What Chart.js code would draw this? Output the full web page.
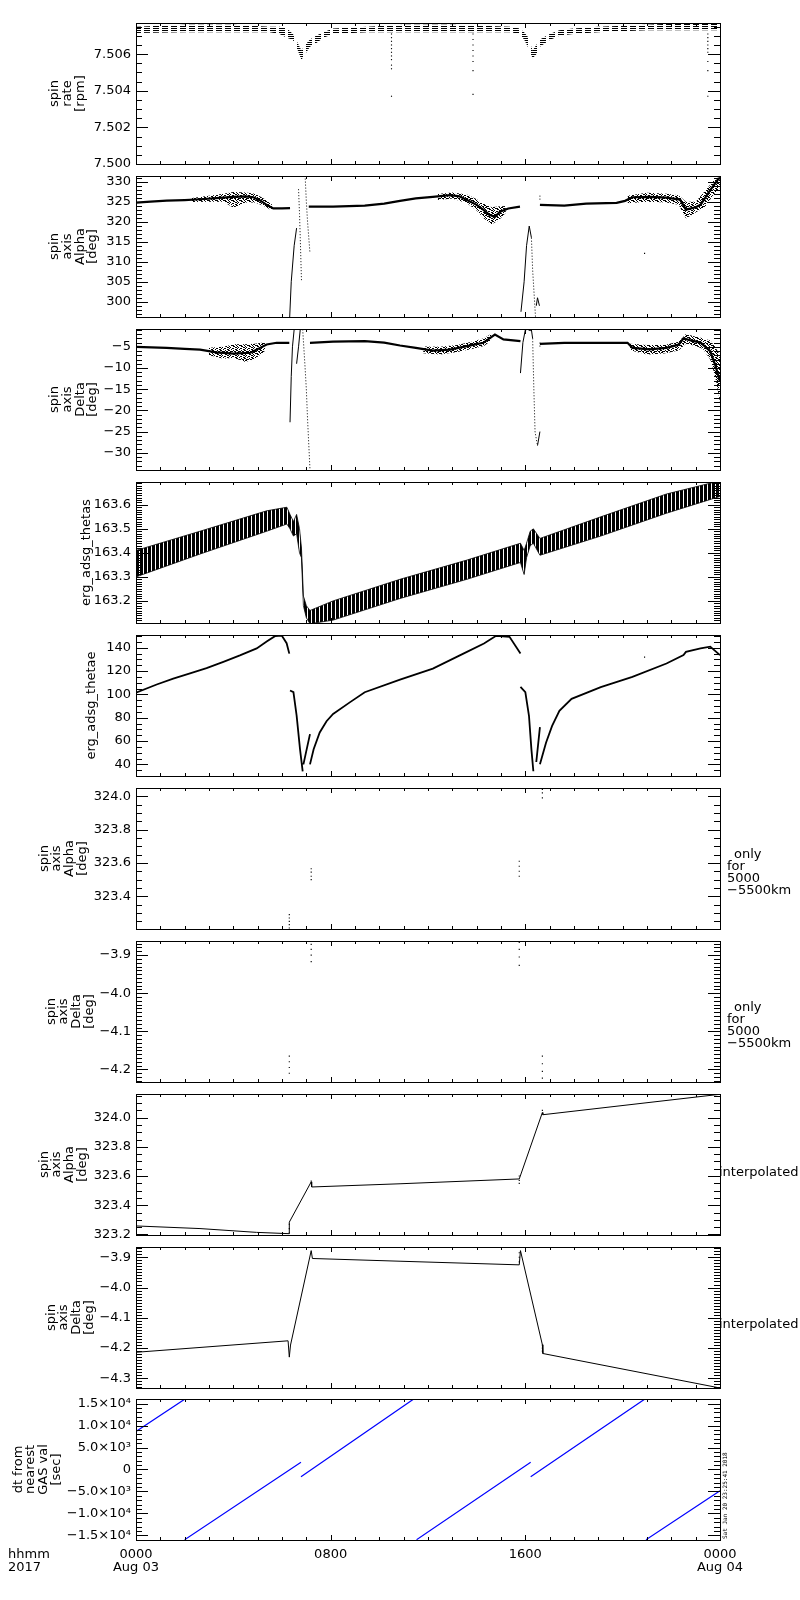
<!DOCTYPE html>
<html>
<head>
<meta charset="utf-8">
<script src="https://cdn.jsdelivr.net/npm/chart.js@4.4.1/dist/chart.umd.min.js"></script>
<style>
  body { margin: 0; background: #fff; }
  #wrap { position: relative; width: 800px; height: 1600px; overflow: hidden; background: #fff;
          font-family: 'DejaVu Sans', sans-serif; color: #000; }
  .note { position: absolute; font-size: 13px; line-height: 12px; white-space: pre; }
  .stamp { position: absolute; left: 721px; top: 1539px; transform-origin: 0 0; transform: rotate(-90deg);
           font: 6px 'DejaVu Sans Mono', monospace; line-height: 7px; white-space: nowrap; }
</style>
</head>
<body>
<div id="wrap">
  <div class="note" style="left:727px;top:848px"><span style="padding-left:7px">only</span>
for
5000
−5500km</div>
  <div class="note" style="left:727px;top:1001px"><span style="padding-left:7px">only</span>
for
5000
−5500km</div>
  <div class="note" style="left:719px;top:1166px">interpolated</div>
  <div class="note" style="left:719px;top:1318px">interpolated</div>
  <div class="note" style="left:8px;top:1547px;line-height:13px">hhmm
2017</div>
  <div class="stamp">Sat Jan 20 23:25:41 2018</div>
</div>
<script>
// ---- data (x = hours since 0000 Aug 03 2017) ----
const spinHours = [0, 2, 4, 5.5, 5.9, 6.2, 6.45, 6.65, 6.8, 6.95, 7.15, 7.4, 7.7, 8.1, 9.5, 11, 13, 15.4, 15.77, 15.95, 16.1, 16.3, 16.45, 16.6, 17.0, 17.4, 17.96, 19, 21, 22.5, 24];
const spinUpper = [7.5075, 7.5076, 7.5076, 7.5075, 7.5075, 7.5074, 7.5071, 7.5066, 7.5062, 7.5065, 7.5068, 7.5070, 7.5072, 7.5074, 7.5075, 7.5076, 7.5076, 7.5075, 7.5074, 7.5072, 7.50695, 7.5062, 7.5065, 7.5068, 7.5071, 7.5073, 7.5074, 7.5075, 7.5076, 7.5077, 7.5077];
const spinLower = [7.50715, 7.5072, 7.5072, 7.5072, 7.5071, 7.5069, 7.50677, 7.5062, 7.50569, 7.5060, 7.5064, 7.5066, 7.5069, 7.5071, 7.5072, 7.5072, 7.5072, 7.5072, 7.5071, 7.5068, 7.5064, 7.50578, 7.5060, 7.5064, 7.50677, 7.5070, 7.5071, 7.5072, 7.5073, 7.5073, 7.5073];
const spikeHours = [10.5, 10.5, 10.5, 10.5, 10.5, 10.5, 10.5, 10.5, 10.5, 10.5, 10.5, 13.85, 13.85, 13.85, 13.85, 13.85, 13.85, 13.85, 13.85, 23.5, 23.5, 23.5, 23.5, 23.5, 23.5, 23.5, 23.5, 23.5];
const spikeVals = [7.5071, 7.5069, 7.5067, 7.5065, 7.5063, 7.5061, 7.5059, 7.5057, 7.5054, 7.5052, 7.5037, 7.5071, 7.5068, 7.5065, 7.5062, 7.5059, 7.5056, 7.5051, 7.5038, 7.5071, 7.5069, 7.5067, 7.5065, 7.5063, 7.5061, 7.5056, 7.5051, 7.5037];

const alphaHours = [0, 0.6, 1.26, 2.0, 2.63, 3.3, 4.0, 4.5, 4.82, 5.1, 5.37, 5.64, 6.0, 6.33, 6.33, 7.1, 8.1, 9.4, 10.2, 10.85, 11.5, 12.2, 12.9, 13.3, 13.6, 14.0, 14.27, 14.5, 14.75, 14.96, 15.3, 15.78, 15.78, 16.6, 17.6, 18.5, 19.75, 20.1, 20.4, 21.1, 21.8, 22.36, 22.6, 23.0, 23.2, 23.6, 23.9, 24];
const alphaVals = [324.75, 325.0, 325.25, 325.4, 325.6, 325.9, 326.2, 326.3, 326.1, 325.3, 324.2, 323.3, 323.3, 323.4, null, 323.75, 323.75, 324.0, 324.5, 325.2, 325.8, 326.2, 326.6, 326.3, 325.4, 324.2, 323.0, 321.8, 321.2, 322.5, 323.3, 323.75, null, 324.2, 324.0, 324.5, 324.7, 325.2, 326.1, 326.2, 326.0, 325.5, 323.0, 323.6, 324.2, 327.9, 330.4, 331];
const alphaNoiseHours = [2.3, 3.0, 3.6, 4.0, 4.5, 4.9, 5.3, 5.6, 5.6, 12.4, 13.0, 13.6, 14.0, 14.3, 14.6, 14.9, 15.2, 15.2, 20.2, 21.0, 21.8, 22.3, 22.6, 23.0, 23.4, 23.7, 24];
const alphaNoiseHigh = [325.9, 326.5, 327.0, 327.4, 327.3, 327.0, 325.6, 324.2, null, 326.9, 327.3, 326.8, 325.6, 324.5, 323.6, 323.8, 323.9, null, 326.5, 327.2, 327.0, 326.6, 325.0, 325.0, 327.8, 330, 331.4];
const alphaNoiseLow = [324.9, 325.0, 325.0, 323.5, 324.8, 324.8, 323.8, 322.7, null, 325.4, 325.8, 324.6, 322.8, 320.8, 319.3, 320.3, 322.2, null, 324.6, 325.0, 324.8, 324.2, 320.8, 322.3, 323.8, 326.5, 328.5];
const alphaExcHours = [6.3, 6.38, 6.5, 6.6, 6.6, 15.82, 15.95, 16.05, 16.16, 16.25, 16.25, 16.45, 16.5, 16.58];
const alphaExcVals = [294, 305, 314, 318.4, null, 297.5, 305, 314, 318.9, 316, null, 299, 301, 299];
const alphaDotHours = [6.68, 6.72, 6.75, 6.8, 6.8, 6.95, 7.0, 7.05, 7.15, 7.15, 16.25, 16.3, 16.38, 16.42, 16.42, 16.6, 16.6];
const alphaDotVals = [328.1, 322, 316, 305.4, null, 331.5, 325, 320, 312.1, null, 316, 308, 300, 296, null, 326.5, 325];
const alphaStrayHours = [20.9];
const alphaStrayVals = [312.1];

const deltaHours = [0, 1.26, 2.0, 2.63, 3.3, 4.0, 4.7, 5.1, 5.37, 5.78, 6.3, 6.3, 7.15, 8.1, 9.4, 10.2, 10.85, 11.5, 12.2, 12.9, 13.6, 14.27, 14.75, 15.1, 15.8, 15.8, 16.6, 17.6, 19.1, 20.2, 20.4, 21.1, 21.8, 22.3, 22.5, 22.8, 23.2, 23.6, 23.8, 24];
const deltaVals = [-5.0, -5.25, -5.5, -5.65, -6.3, -6.6, -6.4, -5.25, -4.45, -4.05, -4.05, null, -4.05, -3.8, -3.65, -4.0, -4.7, -5.25, -5.9, -5.65, -4.85, -4.05, -2.1, -3.25, -3.65, null, -4.3, -4.05, -4.05, -4.05, -5.25, -5.6, -5.25, -4.5, -3.0, -3.5, -4.0, -6.05, -9.2, -13.2];
const deltaNoiseHours = [3.0, 3.6, 4.0, 4.5, 4.9, 5.3, 5.3, 11.8, 12.5, 13.2, 13.8, 14.3, 14.6, 14.6, 20.3, 21.0, 21.7, 22.3, 22.6, 23.0, 23.3, 23.6, 23.8, 24];
const deltaNoiseHigh = [-5.2, -5.0, -4.4, -4.4, -4.3, -3.9, null, -4.9, -5.0, -4.6, -3.8, -3.0, -1.9, null, -4.3, -4.6, -4.6, -3.8, -2.0, -2.6, -3.0, -3.5, -5.0, -7];
const deltaNoiseLow = [-7.0, -7.8, -7.6, -8.6, -7.8, -6.0, null, -6.5, -6.8, -6.2, -5.5, -4.8, -3.5, null, -5.8, -6.8, -6.6, -5.9, -4.3, -4.8, -5.5, -8.0, -12, -18];
const deltaExcHours = [6.33, 6.38, 6.43, 6.5, 6.5, 6.6, 6.68, 6.75, 6.75, 15.8, 15.9, 16.0, 16.1, 16.2, 16.25, 16.3, 16.3, 16.5, 16.6];
const deltaExcVals = [-22.8, -12, -5, -0.9, null, -9, -5, -0.9, null, -11.2, -4, -1.0, -0.9, -1.2, -1.0, -3, null, -28.3, -25];
const deltaDotHours = [6.85, 6.95, 7.0, 7.05, 7.15, 7.15, 16.3, 16.35, 16.4, 16.5, 16.5, 16.6, 16.6];
const deltaDotVals = [-0.9, -10, -15, -22, -34, null, -3, -15, -25.1, -28.3, null, -4, -5];

const thetasHours = [0, 2.63, 5.37, 6.2, 6.33, 6.47, 6.6, 6.72, 6.8, 6.88, 7.0, 7.15, 8.1, 10.85, 13.6, 15.8, 15.95, 16.05, 16.2, 16.33, 16.6, 19.1, 21.8, 24];
const thetasUpper = [163.41, 163.49, 163.575, 163.59, 163.56, 163.53, 163.56, 163.5, 163.42, 163.22, 163.18, 163.16, 163.2, 163.29, 163.37, 163.44, 163.41, 163.44, 163.49, 163.50, 163.46, 163.55, 163.645, 163.70];
const thetasLower = [163.30, 163.395, 163.49, 163.52, 163.50, 163.47, 163.48, 163.40, 163.38, 163.18, 163.13, 163.105, 163.12, 163.21, 163.29, 163.36, 163.31, 163.38, 163.43, 163.44, 163.39, 163.47, 163.565, 163.635];

const thetaeHours = [0, 0.85, 1.53, 2.22, 2.9, 3.59, 4.27, 4.96, 5.37, 5.71, 5.99, 6.19, 6.3, 6.3, 6.33, 6.47, 6.6, 6.74, 6.85, 6.85, 6.88, 7.15, 7.15, 7.15, 7.3, 7.55, 7.83, 8.1, 8.8, 9.4, 10.85, 12.2, 13.6, 14.3, 14.8, 15.35, 15.8, 15.8, 15.8, 16.0, 16.15, 16.25, 16.33, 16.33, 16.45, 16.6, 16.6, 16.6, 16.85, 17.1, 17.4, 17.9, 19.1, 20.4, 21.8, 22.5, 22.6, 23.2, 23.6, 24];
const thetaeVals = [101.5, 108.5, 113.5, 118, 122.5, 128, 133.5, 139.5, 145.5, 150, 150.5, 144, 135, null, 103.4, 102, 82, 53, 34, null, 40, 65.9, null, 40, 53, 67.4, 77, 83.3, 93.4, 101.9, 112.7, 122.2, 136.5, 143.7, 150.3, 149.5, 135.2, null, 106.4, 101.9, 81.7, 52.9, 34.1, null, 42, 72, null, 40, 58.6, 73, 86, 96.2, 106.3, 115, 126.5, 133.7, 136.5, 139.5, 141, 133.7];
const thetaeStrayHours = [20.9];
const thetaeStrayVals = [132];

const alphaOnlyHours = [6.3, 6.3, 6.3, 6.3, 6.3, 7.2, 7.2, 7.2, 7.2, 15.75, 15.75, 15.75, 15.75, 16.7, 16.7, 16.7];
const alphaOnlyVals = [323.29, 323.27, 323.25, 323.23, 323.21, 323.565, 323.545, 323.52, 323.50, 323.61, 323.58, 323.55, 323.52, 324.04, 324.02, 323.99];
const deltaOnlyHours = [6.3, 6.3, 6.3, 6.3, 7.2, 7.2, 7.2, 7.2, 15.75, 15.75, 15.75, 15.75, 16.7, 16.7, 16.7, 16.7];
const deltaOnlyVals = [-4.165, -4.18, -4.195, -4.21, -3.872, -3.885, -3.9, -3.917, -3.867, -3.885, -3.905, -3.927, -4.165, -4.185, -4.205, -4.223];

const alphaIntHours = [0, 2.63, 4.95, 6.3, 6.3, 7.2, 7.22, 10.85, 15.75, 16.7, 16.72, 24];
const alphaIntVals = [323.258, 323.240, 323.214, 323.205, 323.284, 323.56, 323.525, 323.547, 323.58, 324.035, 324.02, 324.16];
const alphaIntDotHours = [6.3, 6.3, 6.3, 15.75, 15.75, 15.75, 7.2, 16.7];
const alphaIntDotVals = [323.21, 323.24, 323.27, 323.55, 323.57, 323.60, 323.565, 324.05];
const deltaIntHours = [0, 6.25, 6.3, 6.35, 7.2, 7.25, 10.85, 15.75, 15.8, 16.7, 16.72, 24];
const deltaIntVals = [-4.214, -4.176, -4.23, -4.19, -3.878, -3.904, -3.913, -3.925, -3.878, -4.189, -4.218, -4.332];
const deltaIntDotHours = [15.75, 15.75, 15.75, 16.7, 16.7, 16.7, 7.2];
const deltaIntDotVals = [-3.885, -3.9, -3.915, -4.19, -4.2, -4.21, -3.866];

const dtHours = [0, 2.0, 2.0, 2.0, 6.78, 6.78, 6.78, 11.4, 11.4, 11.53, 16.22, 16.22, 16.22, 20.9, 20.9, 20.96, 24];
const dtVals = [8660, 16000, null, -16000, 1630, null, -1650, 16000, null, -16000, 1630, null, -1650, 16000, null, -16000, -4850];

const timeTicks = [0, 8, 16, 24];
const timeLabels = [['0000', 'Aug 03'], '0800', '1600', ['0000', 'Aug 04']];

// ---- helpers ----
Chart.defaults.color = '#000';
Chart.defaults.font.family = "'DejaVu Sans', sans-serif";
Chart.defaults.font.size = 13;

const wrap = document.getElementById('wrap');
const PANEL_TOP = [23, 176, 329, 482, 635, 788, 941, 1094, 1247, 1399];

function pts(hs, vs) { return hs.map((h, i) => ({ x: h, y: vs[i] })); }
function line(hs, vs, extra) {
  return Object.assign({ data: pts(hs, vs), borderColor: '#000', borderWidth: 1, pointRadius: 0, fill: false }, extra);
}
function dots(hs, vs, color) {
  return { data: pts(hs, vs), showLine: false, pointStyle: 'rect', pointRadius: 0.8,
           backgroundColor: color || '#000', borderWidth: 0 };
}
function pattern(cv, w, h, rects) {
  const src = document.createElement('canvas');
  src.width = w; src.height = h;
  const g = src.getContext('2d');
  g.fillStyle = '#000';
  rects.forEach(r => g.fillRect(r[0], r[1], r[2], r[3]));
  return cv.getContext('2d').createPattern(src, 'repeat');
}
// speckled band between two boundary series (scatter cloud look)
const SPECKLE = [[0, 0, 2, 1], [5, 0, 1, 1], [3, 1, 2, 1], [7, 1, 1, 1], [1, 2, 1, 1], [4, 2, 2, 1],
                 [0, 3, 1, 1], [2, 3, 2, 1], [6, 3, 2, 1], [3, 4, 1, 1], [5, 4, 2, 1], [0, 5, 2, 1],
                 [4, 5, 1, 1], [7, 5, 1, 1], [1, 6, 2, 1], [5, 6, 1, 1], [3, 7, 2, 1], [6, 7, 1, 1]];
function band(cv, hs, lo, hi) {
  return [
    line(hs, lo, { borderWidth: 0 }),
    line(hs, hi, { borderWidth: 0, fill: '-1', backgroundColor: pattern(cv, 8, 8, SPECKLE) })
  ];
}
const neg = s => String(s).replace('-', '\u2212');
function sci(v) {
  if (Math.abs(v) < 1e-9) return '0';
  const a = Math.abs(v), e = Math.floor(Math.log10(a) + 1e-9);
  return (v < 0 ? '\u2212' : '') + (a / Math.pow(10, e)).toFixed(1) + '\u00d710' + (e === 4 ? '\u2074' : '\u00b3');
}

// IDL-like frame: box with inward ticks on all four sides
const idlFrame = {
  id: 'idlFrame',
  afterDatasetsDraw(chart, args, opts) {
    const { ctx, chartArea: a } = chart;
    const xs = chart.scales.x, ys = chart.scales.y;
    ctx.save();
    ctx.strokeStyle = '#000';
    ctx.lineWidth = 1;
    ctx.beginPath();
    for (let h = 0; h <= 24; h++) {
      const px = Math.round(xs.getPixelForValue(h)) + 0.5;
      const len = h % 8 === 0 ? 5 : 3;
      ctx.moveTo(px, a.bottom); ctx.lineTo(px, a.bottom - len);
      ctx.moveTo(px, a.top); ctx.lineTo(px, a.top + len);
    }
    const ratio = Math.round(opts.major / opts.minor);
    const k0 = Math.ceil(ys.min / opts.minor - 1e-6), k1 = Math.floor(ys.max / opts.minor + 1e-6);
    for (let k = k0; k <= k1; k++) {
      const py = Math.round(ys.getPixelForValue(k * opts.minor)) + 0.5;
      const len = k % ratio === 0 ? 12 : 6;
      ctx.moveTo(a.left, py); ctx.lineTo(a.left + len, py);
      ctx.moveTo(a.right, py); ctx.lineTo(a.right - len, py);
    }
    ctx.stroke();
    ctx.strokeRect(a.left + 0.5, a.top + 0.5, a.right - a.left, a.bottom - a.top);
    ctx.restore();
  }
};

function makePanel(i, spec) {
  const last = i === 9;
  const height = 5 + 141 + (last ? 45 : 5);
  const cv = document.createElement('canvas');
  cv.width = 800; cv.height = height;
  cv.style.cssText = 'position:absolute;left:0;top:' + (PANEL_TOP[i] - 5) + 'px;width:800px;height:' + height + 'px';
  wrap.insertBefore(cv, wrap.firstChild);
  const ratio = Math.round(spec.major / spec.minor);
  new Chart(cv, {
    type: 'line',
    data: { datasets: spec.datasets(cv) },
    options: {
      responsive: false,
      animation: false,
      events: [],
      layout: { padding: { left: 0, right: 80, top: 5, bottom: last ? 0 : 5 } },
      plugins: { legend: { display: false }, tooltip: { enabled: false },
                 idlFrame: { major: spec.major, minor: spec.minor } },
      scales: {
        x: {
          type: 'linear', min: 0, max: 24, display: last,
          grid: { display: false, drawTicks: false }, border: { display: false },
          afterBuildTicks: s => { s.ticks = timeTicks.map(v => ({ value: v })); },
          afterFit: s => { s.height = last ? 45 : 0; s.paddingLeft = 0; s.paddingRight = 0; },
          ticks: { padding: 8, maxRotation: 0, autoSkip: false, font: { size: 13, lineHeight: 1 },
                   callback: v => timeLabels[timeTicks.indexOf(v)] }
        },
        y: {
          type: 'linear', min: spec.min, max: spec.max,
          grid: { display: false, drawTicks: false }, border: { display: false },
          afterBuildTicks: s => {
            const out = [];
            const k0 = Math.ceil(spec.min / spec.minor - 1e-6), k1 = Math.floor(spec.max / spec.minor + 1e-6);
            for (let k = k0; k <= k1; k++) if (k % ratio === 0) out.push({ value: Number((k * spec.minor).toFixed(6)) });
            s.ticks = out;
          },
          afterFit: s => { s.width = 136; s.paddingTop = 0; s.paddingBottom = 0; },
          ticks: { padding: 5, autoSkip: false, font: { size: 13 }, callback: spec.fmt },
          title: { display: true, text: spec.title, font: { size: 13, lineHeight: 0.97 },
                   padding: { top: spec.titleAt - 6.3, bottom: 0 } }
        }
      }
    },
    plugins: [idlFrame]
  });
}

const vecTitle = ['spin', 'axis'];

makePanel(0, {
  min: 7.5, max: 7.5077, major: 0.002, minor: 0.0005, fmt: v => v.toFixed(3),
  title: ['spin', 'rate', '[rpm]'], titleAt: 55,
  datasets: cv => [
    line(spinHours, spinLower, { borderWidth: 0 }),
    line(spinHours, spinUpper, { borderWidth: 0, fill: '-1', backgroundColor: pattern(cv, 9, 2, [[0, 0, 6, 1]]) }),
    dots(spikeHours, spikeVals)
  ]
});

makePanel(1, {
  min: 296.2, max: 331.4, major: 5, minor: 1, fmt: v => String(v),
  title: vecTitle.concat(['Alpha', '[deg]']), titleAt: 55,
  datasets: cv => band(cv, alphaNoiseHours, alphaNoiseLow, alphaNoiseHigh).concat([
    line(alphaHours, alphaVals, { borderWidth: 2.2 }),
    line(alphaExcHours, alphaExcVals),
    line(alphaDotHours, alphaDotVals, { borderDash: [1, 2] }),
    dots(alphaStrayHours, alphaStrayVals)
  ])
});

makePanel(2, {
  min: -34.06, max: -0.8, major: 5, minor: 1, fmt: v => neg(v),
  title: vecTitle.concat(['Delta', '[deg]']), titleAt: 55,
  datasets: cv => band(cv, deltaNoiseHours, deltaNoiseLow, deltaNoiseHigh).concat([
    line(deltaHours, deltaVals, { borderWidth: 2.2 }),
    line(deltaExcHours, deltaExcVals),
    line(deltaDotHours, deltaDotVals, { borderDash: [1, 2] })
  ])
});

makePanel(3, {
  min: 163.108, max: 163.695, major: 0.1, minor: 0.01, fmt: v => v.toFixed(1),
  title: 'erg_adsg_thetas', titleAt: 87,
  datasets: cv => [
    line(thetasHours, thetasLower, { borderWidth: 0.8 }),
    line(thetasHours, thetasUpper, { borderWidth: 0.8, fill: '-1', backgroundColor: pattern(cv, 4, 1, [[0, 0, 3, 1]]) })
  ]
});

makePanel(4, {
  min: 30, max: 151, major: 20, minor: 5, fmt: v => String(v),
  title: 'erg_adsg_thetae', titleAt: 92,
  datasets: () => [
    line(thetaeHours, thetaeVals, { borderWidth: 1.8 }),
    dots(thetaeStrayHours, thetaeStrayVals)
  ]
});

makePanel(5, {
  min: 323.204, max: 324.049, major: 0.2, minor: 0.05, fmt: v => v.toFixed(1),
  title: vecTitle.concat(['Alpha', '[deg]']), titleAt: 44.5,
  datasets: () => [dots(alphaOnlyHours, alphaOnlyVals)]
});

makePanel(6, {
  min: -4.233, max: -3.863, major: 0.1, minor: 0.01, fmt: v => neg(v.toFixed(1)),
  title: vecTitle.concat(['Delta', '[deg]']), titleAt: 51.5,
  datasets: () => [dots(deltaOnlyHours, deltaOnlyVals)]
});

makePanel(7, {
  min: 323.196, max: 324.162, major: 0.2, minor: 0.05, fmt: v => v.toFixed(1),
  title: vecTitle.concat(['Alpha', '[deg]']), titleAt: 44.5,
  datasets: () => [line(alphaIntHours, alphaIntVals), dots(alphaIntDotHours, alphaIntDotVals)]
});

makePanel(8, {
  min: -4.332, max: -3.866, major: 0.1, minor: 0.01, fmt: v => neg(v.toFixed(1)),
  title: vecTitle.concat(['Delta', '[deg]']), titleAt: 51.5,
  datasets: () => [line(deltaIntHours, deltaIntVals), dots(deltaIntDotHours, deltaIntDotVals)]
});

makePanel(9, {
  min: -16070, max: 16050, major: 5000, minor: 1000, fmt: v => sci(v),
  title: ['dt from', 'nearest', 'GAS val', '[sec]'], titleAt: 18.5,
  datasets: () => [line(dtHours, dtVals, { borderColor: '#0000ff', borderWidth: 1.2 })]
});
</script>
</body>
</html>
